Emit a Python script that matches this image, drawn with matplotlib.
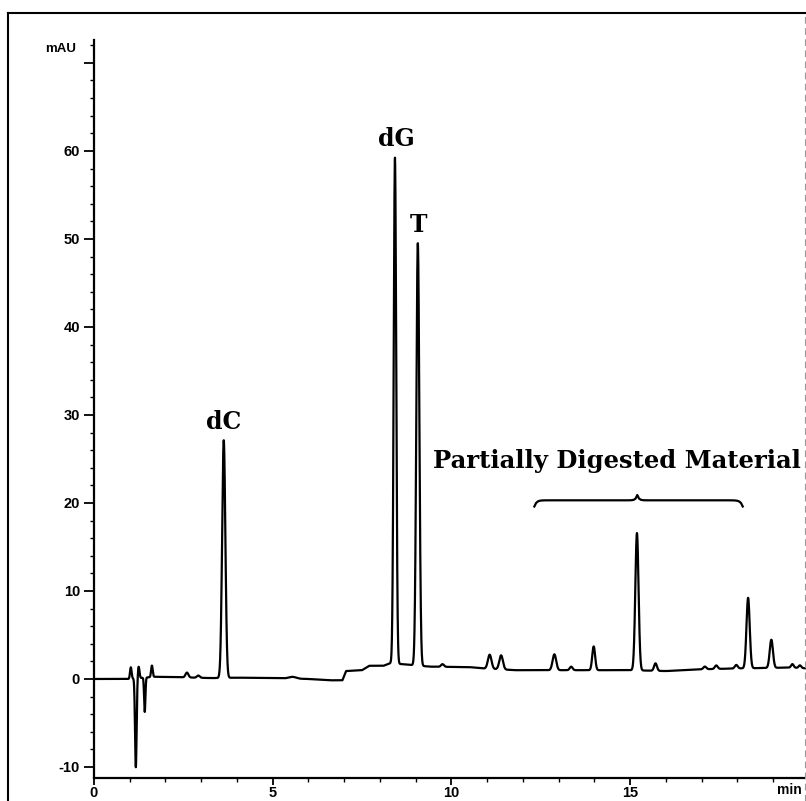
import numpy as np
import matplotlib.pyplot as plt
from matplotlib.lines import Line2D
from matplotlib.ticker import MultipleLocator

# peak table: retention time (min), height above baseline (mAU), width (sigma, min)
peak_rt = [1.03, 1.17, 1.25, 1.42, 1.62, 2.60, 2.92, 3.63, 5.55, 8.42, 9.06, 9.75,
           11.07, 11.39, 12.88, 13.35, 13.98, 15.19, 15.71, 17.09, 17.41, 17.97,
           18.30, 18.95, 19.54, 19.75]
peak_height = [1.3, -10.1, 1.3, -3.9, 1.3, 0.55, 0.25, 27.0, 0.2, 57.5, 48.0, 0.3,
               1.6, 1.6, 1.8, 0.4, 2.7, 15.6, 0.85, 0.3, 0.4, 0.4,
               8.0, 3.2, 0.4, 0.3]
peak_sigma = [0.022, 0.022, 0.022, 0.018, 0.022, 0.04, 0.04, 0.045, 0.1, 0.035, 0.042, 0.04,
              0.05, 0.05, 0.05, 0.04, 0.04, 0.045, 0.04, 0.04, 0.04, 0.04,
              0.045, 0.045, 0.035, 0.035]

# baseline drift
base_t = [0.0, 0.95, 1.7, 2.4, 3.3, 4.0, 5.0, 6.0, 6.6, 6.95, 7.05, 7.5, 7.7, 8.1, 8.3,
          9.4, 10.5, 10.9, 11.8, 12.5, 15.0, 16.0, 17.0, 18.0, 19.5, 20.0]
base_y = [0.0, 0.0, 0.25, 0.2, 0.1, 0.15, 0.1, 0.0, -0.15, -0.15, 0.9, 1.0, 1.5, 1.5, 1.8,
          1.4, 1.35, 1.2, 1.0, 1.0, 1.0, 0.9, 1.1, 1.2, 1.3, 1.2]

labels = ['dC', 'dG', 'T']
label_x = [3.63, 8.46, 9.07]
label_y = [29.2, 61.4, 51.6]

t = np.linspace(0, 20, 8000)
signal = np.interp(t, base_t, base_y)
for rt, h, s in zip(peak_rt, peak_height, peak_sigma):
    signal += h * np.exp(-0.5 * ((t - rt) / s) ** 2)

W, H = 806, 801
fig = plt.figure(figsize=(W / 100, H / 100), dpi=100)
ax = fig.add_axes([94 / W, 1 - 778 / H, 1 - 94 / W, (778 - 40) / H])

ax.plot(t, signal, color='black', lw=1.6)
ax.set_xlim(0, 19.92)
ax.set_ylim(-11.25, 72.6)

ax.spines['top'].set_visible(False)
ax.spines['right'].set_visible(False)
ax.spines['left'].set_linewidth(1.6)
ax.spines['bottom'].set_linewidth(1.6)

ax.set_yticks([-10, 0, 10, 20, 30, 40, 50, 60, 70])
ax.set_yticklabels(['-10', '0', '10', '20', '30', '40', '50', '60', ''])
ax.yaxis.set_minor_locator(MultipleLocator(2))
ax.set_xticks([0, 5, 10, 15])
ax.xaxis.set_minor_locator(MultipleLocator(1))
ax.tick_params(axis='y', which='major', length=7, width=1.3, labelsize=10.5, pad=3)
ax.tick_params(axis='x', which='major', length=5, width=1.3, labelsize=10.5, pad=1)
ax.tick_params(axis='both', which='minor', length=3, width=1.0)
for lab in ax.get_xticklabels() + ax.get_yticklabels():
    lab.set_fontweight('bold')
    lab.set_family('Liberation Sans')

fig.text(61 / W, 1 - 49 / H, 'mAU', fontsize=9.5, fontweight='bold', family='Liberation Sans',
         va='center', ha='center')
fig.text(802 / W, 1 - 790 / H, 'min', fontsize=10, fontweight='bold', family='Liberation Sans',
         va='center', ha='right')

for lab, x, y in zip(labels, label_x, label_y):
    ax.text(x, y, lab, fontsize=17, fontweight='bold', family='DejaVu Serif',
            ha='center', va='center')
ax.text(14.62, 24.8, 'Partially Digested Material', fontsize=17.5, fontweight='bold',
        family='DejaVu Serif', ha='center', va='center')

# curly brace over the partially digested peaks
bx0, bx1, bmid, by = 12.32, 18.15, 15.2, 20.3
q = np.linspace(0, 1, 60)
left_x = bx0 + (bmid - bx0) * q
right_x = bmid + (bx1 - bmid) * q
curl = 0.7
left_y = by - curl * np.exp(-q / 0.02) + 0.6 * np.exp(-(1 - q) / 0.015)
right_y = by + 0.6 * np.exp(-q / 0.015) - curl * np.exp(-(1 - q) / 0.02)
ax.plot(np.r_[left_x, right_x], np.r_[left_y, right_y], color='black', lw=1.6)

# scanned page frame
fig.add_artist(Line2D([8 / W, 8 / W], [0, 1 - 13 / H], color='black', lw=1.5))
fig.add_artist(Line2D([8 / W, 805 / W], [1 - 13 / H, 1 - 13 / H], color='black', lw=1.5))
fig.add_artist(Line2D([805 / W, 805 / W], [0, 1 - 13 / H], color='0.6', lw=0.8, ls=(0, (6, 4))))

fig.savefig('out.png', dpi=100)
